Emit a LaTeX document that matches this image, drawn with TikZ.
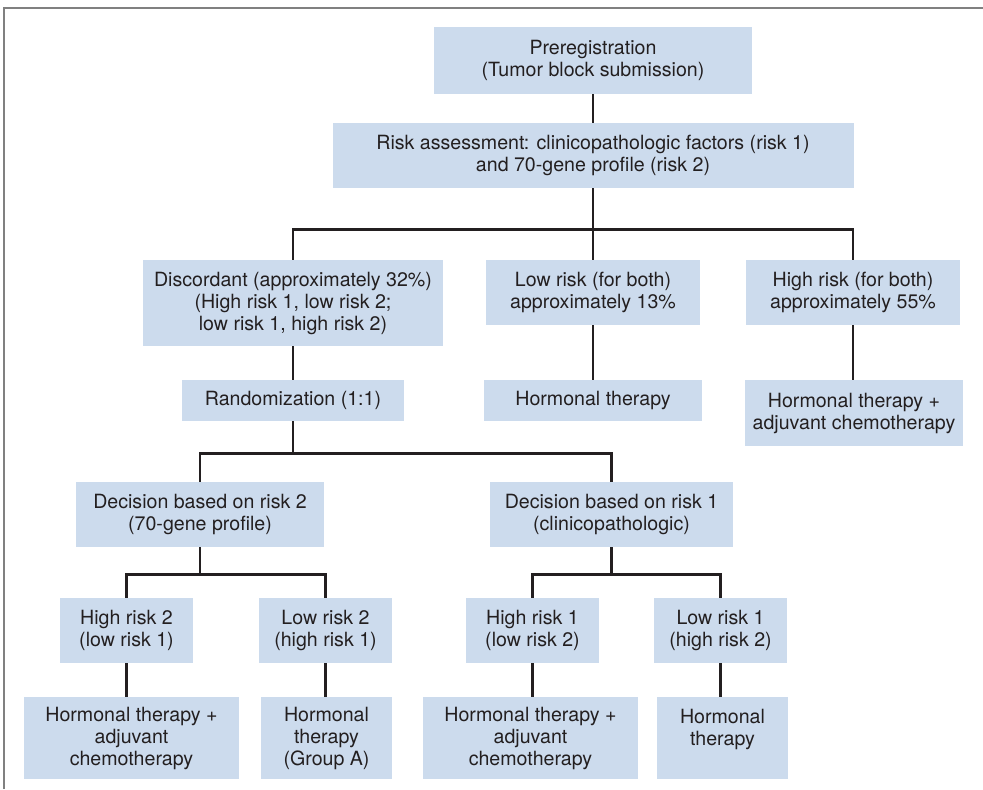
\documentclass[tikz,border=0pt]{standalone}
\usepackage{fontspec}
\setmainfont{TeX Gyre Heros}
\definecolor{boxblue}{RGB}{204,219,237}
\definecolor{inkgray}{RGB}{35,31,32}
\tikzset{
  box/.style={fill=boxblue, text=inkgray, align=center, inner sep=0pt,
    font=\fontsize{9.8}{11}\selectfont},
  link/.style={draw=inkgray, line width=1.4pt},
}

\begin{document}
\begin{tikzpicture}[x=0.5pt, y=-0.5pt]
\useasboundingbox (0,0) rectangle (983,789);
% Frame
\draw[gray, line width=0.7pt] (4,789) -- (4,8) -- (983,8);

% Top of the tree
\node[box, minimum width=159pt, minimum height=33.5pt] (pre) at (593,60.5) {Preregistration\\(Tumor block submission)};
\node[box, minimum width=260.5pt, minimum height=32.5pt] (risk) at (593,155.5) {Risk assessment: clinicopathologic factors (risk 1)\\and 70-gene profile (risk 2)};

% Risk groups
\node[box, minimum width=150pt, minimum height=43pt] (disc) at (293,303) {Discordant (approximately 32\%)\\(High risk 1, low risk 2;\\low risk 1, high risk 2)};
\node[box, minimum width=107pt, minimum height=32.5pt] (low) at (593,292.5) {Low risk (for both)\\approximately 13\%};
\node[box, minimum width=107pt, minimum height=32.5pt] (high) at (853,292.5) {High risk (for both)\\approximately 55\%};

\node[box, minimum width=111pt, minimum height=20.5pt] (rand) at (293,400.5) {Randomization (1:1)};
\node[box, minimum width=109pt, minimum height=20.5pt] (ht) at (593,400.5) {Hormonal therapy};
\node[box, minimum width=109pt, minimum height=33pt] (htc) at (854,413) {Hormonal therapy +\\adjuvant chemotherapy};

% Randomized arms
\node[box, minimum width=124pt, minimum height=32.5pt] (dec2) at (200,514.5) {Decision based on risk 2\\(70-gene profile)};
\node[box, minimum width=121.5pt, minimum height=32.5pt] (dec1) at (611.5,514.5) {Decision based on risk 1\\(clinicopathologic)};

\node[box, minimum width=66.5pt, minimum height=32.5pt] (hr2) at (126.5,630.5) {High risk 2\\(low risk 1)};
\node[box, minimum width=66.5pt, minimum height=32.5pt] (lr2) at (325.5,630.5) {Low risk 2\\(high risk 1)};
\node[box, minimum width=66.5pt, minimum height=32.5pt] (hr1) at (532.5,630.5) {High risk 1\\(low risk 2)};
\node[box, minimum width=66.5pt, minimum height=32.5pt] (lr1) at (720.5,630.5) {Low risk 1\\(high risk 2)};

% Treatments
\node[box, minimum width=107.5pt, minimum height=41pt] (ta) at (131.5,738) {Hormonal therapy +\\adjuvant\\chemotherapy};
\node[box, minimum width=65.5pt, minimum height=41pt] (tb) at (326.5,738) {Hormonal\\therapy\\(Group A)};
\node[box, minimum width=107.5pt, minimum height=41pt] (tc) at (530.5,738) {Hormonal therapy +\\adjuvant\\chemotherapy};
\node[box, minimum width=65.5pt, minimum height=41pt] (td) at (722.5,738) {Hormonal\\therapy\\\mbox{}};

% Connectors
\draw[link] (pre) -- (risk);
\draw[link] (risk.south) -- ++(0,41) -| (disc.north);
\draw[link] (risk.south) -- ++(0,41) -| (high.north);
\draw[link] (risk) -- (low);
\draw[link] (disc) -- (rand);
\draw[link] (low) -- (ht);
\draw[link] (high.south) -- (high.south |- htc.north);

\draw[link] (rand.south) -- ++(0,32) -| (dec2.north);
\draw[link] (rand.south) -- ++(0,32) -| (dec1.north);

\draw[link] (dec2.south) -- ++(0,27) -| (hr2.north);
\draw[link] (dec2.south) -- ++(0,27) -| (lr2.north);
\draw[link] (dec1.south) -- ++(0,27) -| (hr1.north);
\draw[link] (dec1.south) -- ++(0,27) -| (lr1.north);

\draw[link] (hr2.south) -- (hr2.south |- ta.north);
\draw[link] (lr2.south) -- (lr2.south |- tb.north);
\draw[link] (hr1.south) -- (hr1.south |- tc.north);
\draw[link] (lr1.south) -- (lr1.south |- td.north);

\end{tikzpicture}
\end{document}
